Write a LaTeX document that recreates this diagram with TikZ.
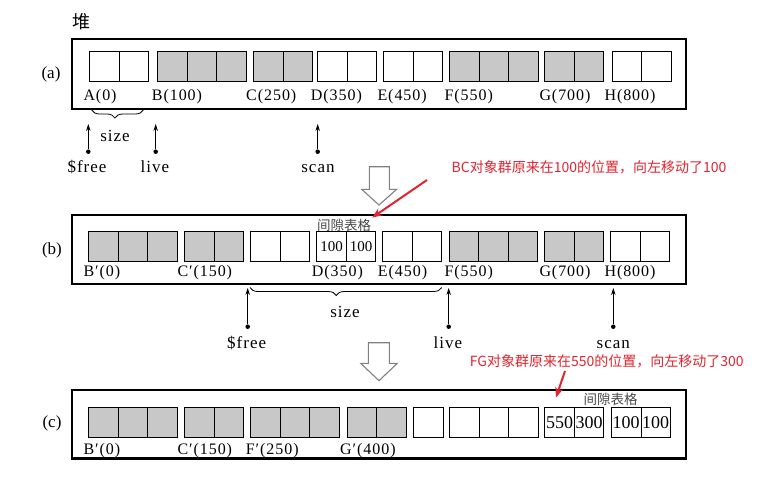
\documentclass[tikz,border=0pt]{standalone}
\usepackage{fontspec}
\setmainfont{Liberation Serif}
\newfontfamily\lblfont[LetterSpace=6]{Liberation Serif}
\newfontfamily\cjkfont{Noto Sans CJK SC}
\usetikzlibrary{arrows.meta,decorations.pathreplacing}

\definecolor{cellgray}{RGB}{200,200,200}
\definecolor{notered}{RGB}{226,36,46}

\tikzset{
  cell/.style={draw, line width=0.9pt, minimum width=29.5pt, minimum height=30pt,
    inner sep=0pt, anchor=north west},
  heap/.style={line width=2.4pt},
  lbl/.style={inner sep=0pt, anchor=base west, font=\lblfont\fontsize{16}{16}\selectfont},
  ptr/.style={inner sep=0pt, anchor=base, font=\lblfont\fontsize{17}{17}\selectfont},
  row/.style={inner sep=0pt, font=\fontsize{17}{17}\selectfont},
  dot/.style={circle, fill, inner sep=0pt, minimum size=4.5pt},
  ptrline/.style={line width=1pt, -{Stealth[length=7pt,width=4.5pt]}},
  sizebrace/.style={line width=0.8pt, decorate,
    decoration={brace, mirror, amplitude=8pt, aspect=0.45}},
  gap/.style={inner sep=1pt, text=black!72, font=\cjkfont\fontsize{13.5}{13.5}\selectfont},
  note/.style={inner sep=0pt, text=notered, font=\cjkfont\fontsize{14}{14}\selectfont},
  notearrow/.style={draw=notered, line width=2pt, -{Stealth[length=10pt,width=8pt]}},
  bigarrow/.style={draw=black!50, line width=1.1pt, fill=white}
}

\begin{document}
\begin{tikzpicture}[x=1pt, y=-1pt]
\useasboundingbox (0,0) rectangle (780,477);

\node[inner sep=0pt, font=\cjkfont\fontsize{18}{18}\selectfont] (heapname) at (81,22) {堆};

% (a)
\node[row] (rowa) at (51,74) {(a)};
\draw[heap] (72,39) rectangle (686,108.7);
\foreach \g/\x/\n/\f in {A/89.3/2/white, B/157.3/3/cellgray, C/253.3/2/cellgray,
    D/317.3/2/white, E/383.3/2/white, F/449.3/3/cellgray, G/544.3/2/cellgray, H/611.7/2/white}
  \foreach \i in {1,...,\n}
    \node[cell, fill=\f] (a\g\i) at ({\x+29.5*(\i-1)},51) {};
\foreach \g/\x/\t in {A/83.3/A(0), B/151.7/B(100), C/246/C(250), D/310.7/D(350),
    E/377.3/E(450), F/444.3/F(550), G/539.3/G(700), H/604.3/H(800)}
  \node[lbl] (la\g) at (\x,100) {\t};

\draw[sizebrace] (91.7,110) -- (143.3,110);
\node[ptr] (asize) at (115,141) {size};

\node[dot] (afree) at (88.3,151.7) {};
\node[dot] (alive) at (155.7,151.7) {};
\node[dot] (ascan) at (317.7,151.7) {};
\coordinate (afreetip) at (88.3,124);
\coordinate (alivetip) at (155.7,124);
\coordinate (ascantip) at (317.7,124);
\draw[ptrline] (afree) -- (afreetip);
\draw[ptrline] (alive) -- (alivetip);
\draw[ptrline] (ascan) -- (ascantip);
\node[ptr] (afreetxt) at (87,172) {\$free};
\node[ptr] (alivetxt) at (155,172) {live};
\node[ptr] (ascantxt) at (318,172) {scan};

\draw[bigarrow] (369.3,166.7) -- (369.3,189.3) -- (361.7,189.3) -- (379,205)
  -- (396.7,189.3) -- (389.3,189.3) -- (389.3,166.7) -- cycle;

\node[note] (bcnote) at (589,167) {BC对象群原来在100的位置，向左移动了100};

% (b)
\node[row] (rowb) at (52,250) {(b)};
\draw[heap] (72,215) rectangle (686,283.7);
\foreach \g/\x/\n/\f in {B/88.3/3/cellgray, C/184.3/2/cellgray, X/250.3/2/white,
    E/382/2/white, F/448.7/3/cellgray, G/544.3/2/cellgray, H/610.3/2/white}
  \foreach \i in {1,...,\n}
    \node[cell, fill=\f] (b\g\i) at ({\x+29.5*(\i-1)},231) {};
\node[cell, font=\fontsize{15}{15}\selectfont] (bD1) at (316.3,231) {100};
\node[cell, font=\fontsize{15}{15}\selectfont] (bD2) at (345.8,231) {100};
\node[gap] (bgap) at (344,225) {间隙表格};
\foreach \g/\x/\t in {B/83.3/B′(0), C/177.3/C′(150), D/311.7/D(350), E/377.7/E(450),
    F/444.3/F(550), G/539.3/G(700), H/604.3/H(800)}
  \node[lbl] (lb\g) at (\x,276.5) {\t};

\coordinate (bcfrom) at (427,180);
\draw[notearrow] (bcfrom) -- (bgap.north east);

\draw[sizebrace] (250,287.5) -- (441.7,287.5);
\node[ptr] (bsize) at (345,317) {size};

\node[dot] (bfree) at (247.7,326.7) {};
\node[dot] (blive) at (448.7,326.7) {};
\node[dot] (bscan) at (613.3,326.7) {};
\coordinate (bfreetip) at (247.7,288);
\coordinate (blivetip) at (448.7,288);
\coordinate (bscantip) at (613.3,288);
\draw[ptrline] (bfree) -- (bfreetip);
\draw[ptrline] (blive) -- (blivetip);
\draw[ptrline] (bscan) -- (bscantip);
\node[ptr] (bfreetxt) at (246.7,348) {\$free};
\node[ptr] (blivetxt) at (448,348) {live};
\node[ptr] (bscantxt) at (613.3,348) {scan};

\draw[bigarrow] (368.3,342.7) -- (368.3,363.3) -- (360.7,363.3) -- (379,380.7)
  -- (397.3,363.3) -- (389.3,363.3) -- (389.3,342.7) -- cycle;

\node[note] (fgnote) at (606.7,361) {FG对象群原来在550的位置，向左移动了300};

% (c)
\node[row] (rowc) at (52,423) {(c)};
\draw[heap] (72,390) rectangle (686,458.5);
\foreach \g/\x/\n/\f in {B/88.3/3/cellgray, C/184.3/2/cellgray, F/250.3/3/cellgray,
    G/346.7/2/cellgray, X/413.3/1/white, Y/449.3/3/white}
  \foreach \i in {1,...,\n}
    \node[cell, fill=\f] (c\g\i) at ({\x+29.5*(\i-1)},407.3) {};
\node[cell, font=\fontsize{18}{18}\selectfont] (cfg1) at (544.3,407.3) {550};
\node[cell, font=\fontsize{18}{18}\selectfont] (cfg2) at (573.8,407.3) {300};
\node[cell, font=\fontsize{18}{18}\selectfont] (cbc1) at (611,407.3) {100};
\node[cell, font=\fontsize{18}{18}\selectfont] (cbc2) at (640.5,407.3) {100};
\node[gap] (cgap) at (610.5,399) {间隙表格};
\foreach \g/\x/\t in {B/83.3/B′(0), C/177.3/C′(150), F/245.7/F′(250), G/340/G′(400)}
  \node[lbl] (lc\g) at (\x,454) {\t};

\coordinate (fgfrom) at (565,371);
\coordinate (fgto) at (556,397.5);
\draw[notearrow] (fgfrom) -- (fgto);

\end{tikzpicture}
\end{document}
